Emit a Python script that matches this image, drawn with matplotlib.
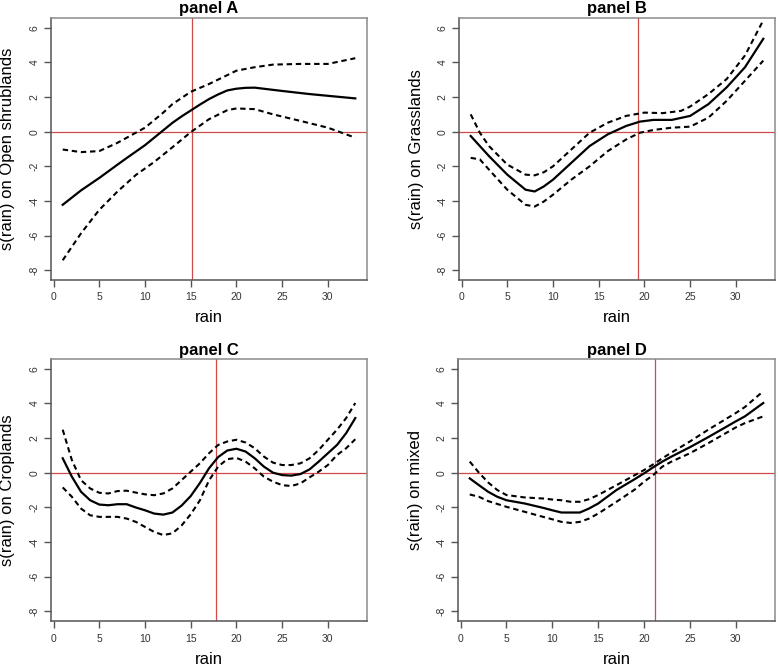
import matplotlib
matplotlib.use("Agg")
import matplotlib.pyplot as plt
import numpy as np

plt.rcParams['font.family'] = ['Liberation Sans', 'DejaVu Sans']

# ---- data ----
titles = ["panel A", "panel B", "panel C", "panel D"]
ylabels = ["s(rain) on Open shrublands", "s(rain) on Grasslands",
           "s(rain) on Croplands", "s(rain) on mixed"]
vlines = [15.12, 19.31, 17.72, 21.23]

# Panel A
a_fit_x = [1, 3, 5, 7, 8, 9, 10, 11, 12, 13, 14, 15, 16, 17, 18, 19, 20, 21, 22, 25, 28, 30, 33]
a_fit_y = [-4.22, -3.39, -2.67, -1.9, -1.52, -1.15, -0.78, -0.35, 0.08, 0.51, 0.88, 1.22, 1.56, 1.88,
           2.15, 2.38, 2.48, 2.53, 2.54, 2.35, 2.17, 2.07, 1.92]
a_up_x = [1, 3, 5, 7, 9, 10, 12, 13, 15, 17, 20, 22, 24, 27, 30, 33]
a_up_y = [-1.03, -1.18, -1.12, -0.64, -0.06, 0.23, 1.1, 1.59, 2.3, 2.75, 3.52, 3.72, 3.87, 3.91, 3.91, 4.24]
a_lo_x = [1, 3, 5, 7, 9, 11, 13, 15, 17, 19, 20, 22, 24, 27, 30, 31, 33]
a_lo_y = [-7.42, -5.87, -4.51, -3.45, -2.5, -1.75, -0.9, -0.03, 0.72, 1.24, 1.34, 1.3, 1.0, 0.62, 0.23, 0.04, -0.35]

# Panel B
b_fit_x = [1, 3, 5, 7, 8, 9, 10, 12, 14, 16, 18, 19.5, 21, 23, 25, 27, 29, 31, 33]
b_fit_y = [-0.25, -1.41, -2.48, -3.35, -3.45, -3.16, -2.77, -1.8, -0.83, -0.15, 0.33, 0.58, 0.68, 0.68, 0.91, 1.59, 2.56, 3.72, 5.36]
b_up_x = [1, 2, 3, 5, 7, 8, 9, 10, 12, 14, 16, 18, 20, 22, 24, 25, 27, 29, 31, 33]
b_up_y = [1.0, -0.06, -0.83, -1.9, -2.48, -2.52, -2.34, -2.0, -1.03, -0.06, 0.52, 0.91, 1.1, 1.07, 1.2, 1.45, 2.17, 3.04, 4.4, 6.43]
b_lo_x = [1, 2, 3, 5, 7, 8, 9, 10, 12, 14, 16, 18, 19.5, 21, 23, 25, 27, 29, 31, 33]
b_lo_y = [-1.51, -1.6, -2.19, -3.35, -4.22, -4.32, -4.03, -3.64, -2.77, -2.0, -1.12, -0.45, -0.06, 0.1, 0.23, 0.29, 0.81, 1.78, 2.94, 4.1]

# Panel C
c_x = list(range(1, 34))
c_fit_y = [0.83, -0.23, -1.1, -1.59, -1.84, -1.88, -1.82, -1.82, -2.01, -2.17, -2.36, -2.42, -2.3,
           -1.9, -1.35, -0.6, 0.25, 0.9, 1.28, 1.38, 1.22, 0.83, 0.35, 0.0, -0.14, -0.17, -0.08,
           0.19, 0.64, 1.12, 1.6, 2.28, 3.15]
c_up_y = [2.48, 0.73, -0.43, -0.91, -1.16, -1.2, -1.06, -1.04, -1.15, -1.25, -1.3, -1.2, -0.91,
          -0.43, 0.06, 0.54, 1.12, 1.6, 1.8, 1.9, 1.74, 1.41, 0.93, 0.58, 0.44, 0.44, 0.54,
          0.83, 1.31, 1.9, 2.48, 3.15, 4.02]
c_lo_y = [-0.85, -1.39, -2.07, -2.46, -2.55, -2.55, -2.55, -2.65, -2.84, -3.13, -3.42, -3.6, -3.5,
          -3.05, -2.4, -1.6, -0.45, 0.35, 0.78, 0.85, 0.64, 0.25, -0.23, -0.52, -0.72, -0.77, -0.62,
          -0.27, 0.06, 0.44, 1.02, 1.41, 1.93]

# Panel D
d_fit_x = [1, 2, 3, 4, 5, 7, 9, 10, 11, 12, 13, 14, 15, 17, 19, 20, 21, 22, 23, 25, 27, 30, 31, 33]
d_fit_y = [-0.33, -0.72, -1.1, -1.39, -1.59, -1.78, -2.03, -2.17, -2.3, -2.3, -2.3, -2.07, -1.78,
           -1.0, -0.37, -0.04, 0.31, 0.64, 0.93, 1.47, 2.05, 2.96, 3.25, 4.02]
d_up_x = [1, 2, 3, 4, 5, 7, 9, 10, 11, 12, 13, 14, 15, 17, 19, 20, 21, 22, 23, 25, 27, 30, 31, 33]
d_up_y = [0.64, 0.0, -0.56, -1.0, -1.29, -1.43, -1.49, -1.55, -1.59, -1.68, -1.68, -1.53, -1.29,
          -0.72, -0.14, 0.15, 0.48, 0.83, 1.16, 1.8, 2.48, 3.44, 3.79, 4.7]
d_lo_x = [1, 2, 3, 5, 7, 9, 10, 11, 12, 13, 14, 15, 17, 19, 20, 21, 22, 23, 25, 27, 30, 31, 33]
d_lo_y = [-1.26, -1.39, -1.64, -1.97, -2.26, -2.55, -2.69, -2.84, -2.9, -2.84, -2.65, -2.36,
          -1.68, -0.97, -0.52, -0.14, 0.35, 0.64, 1.12, 1.7, 2.61, 2.86, 3.25]

panels = [
    (a_fit_x, a_fit_y, a_up_x, a_up_y, a_lo_x, a_lo_y),
    (b_fit_x, b_fit_y, b_up_x, b_up_y, b_lo_x, b_lo_y),
    (c_x, c_fit_y, c_x, c_up_y, c_x, c_lo_y),
    (d_fit_x, d_fit_y, d_up_x, d_up_y, d_lo_x, d_lo_y),
]

xticks = [0, 5, 10, 15, 20, 25, 30]
yticks = [-8, -6, -4, -2, 0, 2, 4, 6]

W, H = 778, 668
fig = plt.figure(figsize=(W / 100, H / 100), dpi=100)

# axes boxes in pixels: (left, top, right, bottom)
boxes = [(51, 18, 367, 280), (459, 18, 775, 280), (51, 359, 367, 621), (458, 359, 775, 621)]

tick_font = ['Liberation Sans Narrow', 'Liberation Sans', 'DejaVu Sans']
red = '#d04848'
for i, (box, pdata) in enumerate(zip(boxes, panels)):
    l, t, r, b = box
    ax = fig.add_axes([l / W, (H - b) / H, (r - l) / W, (b - t) / H])
    fx, fy, ux, uy, lx, ly = pdata
    ax.axhline(0, color=red, lw=0.9, zorder=1)
    ax.axvline(vlines[i], color=red, lw=0.9, zorder=1)
    ax.plot(fx, fy, color='black', lw=1.6, zorder=3, solid_joinstyle='round')
    ax.plot(ux, uy, color='black', lw=1.5, dashes=(2.6, 1.8), zorder=3)
    ax.plot(lx, ly, color='black', lw=1.5, dashes=(2.6, 1.8), zorder=3)
    ax.set_xlim(-0.28, 34.28)
    ax.set_ylim(-8.56, 6.56)
    ax.set_xticks(xticks)
    ax.set_yticks(yticks)
    ax.set_xticklabels([str(v) for v in xticks], family=tick_font)
    ax.set_yticklabels([str(v) for v in yticks], rotation=90, va='center', family=tick_font)
    ax.tick_params(axis='both', labelsize=7.5, colors='#555555', labelcolor='#333333',
                   width=1.0, length=5)
    ax.tick_params(axis='x', pad=4)
    ax.tick_params(axis='y', pad=3)
    for s in ['left', 'bottom']:
        ax.spines[s].set_color('#555555')
        ax.spines[s].set_linewidth(1.1)
    for s in ['top', 'right']:
        ax.spines[s].set_color('#8a8a8a')
        ax.spines[s].set_linewidth(1.1)
    hpx = b - t
    wpx = r - l
    ax.text(0.5, 1 + 9 / hpx, titles[i], transform=ax.transAxes, ha='center', va='center',
            fontsize=12, fontweight='bold')
    ax.text(0.5, -38 / hpx, 'rain', transform=ax.transAxes, ha='center', va='center',
            fontsize=12)
    ax.text(-43 / wpx, 0.5, ylabels[i], transform=ax.transAxes, ha='center', va='center',
            rotation=90, fontsize=12)

fig.savefig('out.png', dpi=100)
